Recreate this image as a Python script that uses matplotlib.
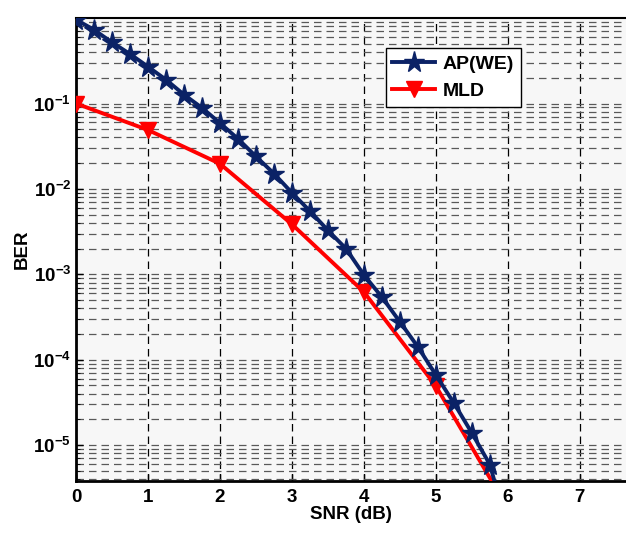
import matplotlib
matplotlib.use("Agg")
import matplotlib.pyplot as plt
from matplotlib.ticker import LogLocator, NullFormatter, FixedLocator

plt.rcParams['font.family'] = ['Liberation Sans', 'DejaVu Sans']
plt.rcParams['font.weight'] = 'bold'
plt.rcParams['mathtext.fontset'] = 'custom'
plt.rcParams['mathtext.rm'] = 'Liberation Sans:bold'
plt.rcParams['mathtext.bf'] = 'Liberation Sans:bold'
plt.rcParams['mathtext.it'] = 'Liberation Sans:bold'

# AP(WE) curve, step 0.25 dB
snr_ap = [0, 0.25, 0.5, 0.75, 1.0, 1.25, 1.5, 1.75, 2.0, 2.25, 2.5, 2.75,
          3.0, 3.25, 3.5, 3.75, 4.0, 4.25, 4.5, 4.75, 5.0, 5.25, 5.5, 5.75, 6.0]
ber_ap = [0.96, 0.73, 0.52, 0.38, 0.27, 0.19, 0.127, 0.089, 0.059, 0.0386,
          0.024, 0.0151, 0.0090, 0.0055, 0.00327, 0.0020, 9.8e-4, 5.4e-4,
          2.77e-4, 1.41e-4, 6.6e-5, 3.1e-5, 1.38e-5, 5.9e-6, 1.0e-6]

# MLD curve, step 1 dB
snr_mld = [0, 1, 2, 3, 4, 5, 6]
ber_mld = [0.1, 0.049, 0.0197, 0.00385, 6.2e-4, 4.9e-5, 1.8e-6]

xticks = [0, 1, 2, 3, 4, 5, 6, 7]
yticks = [1e-1, 1e-2, 1e-3, 1e-4, 1e-5]

fig = plt.figure(figsize=(6.26, 5.33), dpi=100)
ax = fig.add_axes([0.1214, 0.0976, 0.8786, 0.8684])
ax.set_facecolor('#f7f7f7')

ax.semilogy(snr_ap, ber_ap, color='#0b2266', lw=2.8, marker='*',
            markersize=15.5, label='AP(WE)', zorder=4)
ax.semilogy(snr_mld, ber_mld, color='#ff0000', lw=2.8, marker='v',
            markersize=12, label='MLD', zorder=3)

ax.set_xlim(0, 7.64)
ax.set_ylim(3.8e-6, 1.0)

ax.xaxis.set_major_locator(FixedLocator(xticks))
ax.yaxis.set_major_locator(FixedLocator(yticks))
ax.yaxis.set_minor_locator(LogLocator(base=10, subs=range(2, 10), numticks=20))
ax.yaxis.set_minor_formatter(NullFormatter())
ax.set_yticklabels([r'$10^{-%d}$' % k for k in range(1, 6)])

# MATLAB style dashed grid
ax.grid(True, axis='x', which='major', color='k', lw=0.9, ls=(0, (6, 4)))
ax.grid(True, axis='y', which='both', color='0.35', lw=0.9, ls=(0, (6, 4)))
ax.set_axisbelow(True)

ax.tick_params(axis='both', which='both', direction='in', labelsize=13.5)
ax.tick_params(axis='both', which='major', length=5, width=1)
ax.tick_params(axis='y', which='minor', length=3)
ax.tick_params(axis='x', pad=6)
for lab in ax.get_xticklabels() + ax.get_yticklabels():
    lab.set_fontweight('bold')

for sp in ax.spines.values():
    sp.set_linewidth(2)
    sp.set_color('k')
ax.spines['right'].set_visible(False)
ax.spines['top'].set_linewidth(1.5)

ax.set_xlabel('SNR (dB)', fontsize=13.5, fontweight='bold', labelpad=0)
ax.set_ylabel('BER', fontsize=13.5, fontweight='bold', labelpad=2)

leg = ax.legend(loc='upper left', bbox_to_anchor=(0.563, 0.935), fontsize=14,
                frameon=True, fancybox=False, handlelength=2.2,
                borderpad=0.35, labelspacing=0.5, handletextpad=0.4,
                borderaxespad=0)
leg.get_frame().set_edgecolor('k')
leg.get_frame().set_linewidth(1.0)
leg.get_frame().set_facecolor('white')
leg.get_frame().set_alpha(1)
for t in leg.get_texts():
    t.set_fontweight('bold')

fig.savefig('out.png', dpi=100)
